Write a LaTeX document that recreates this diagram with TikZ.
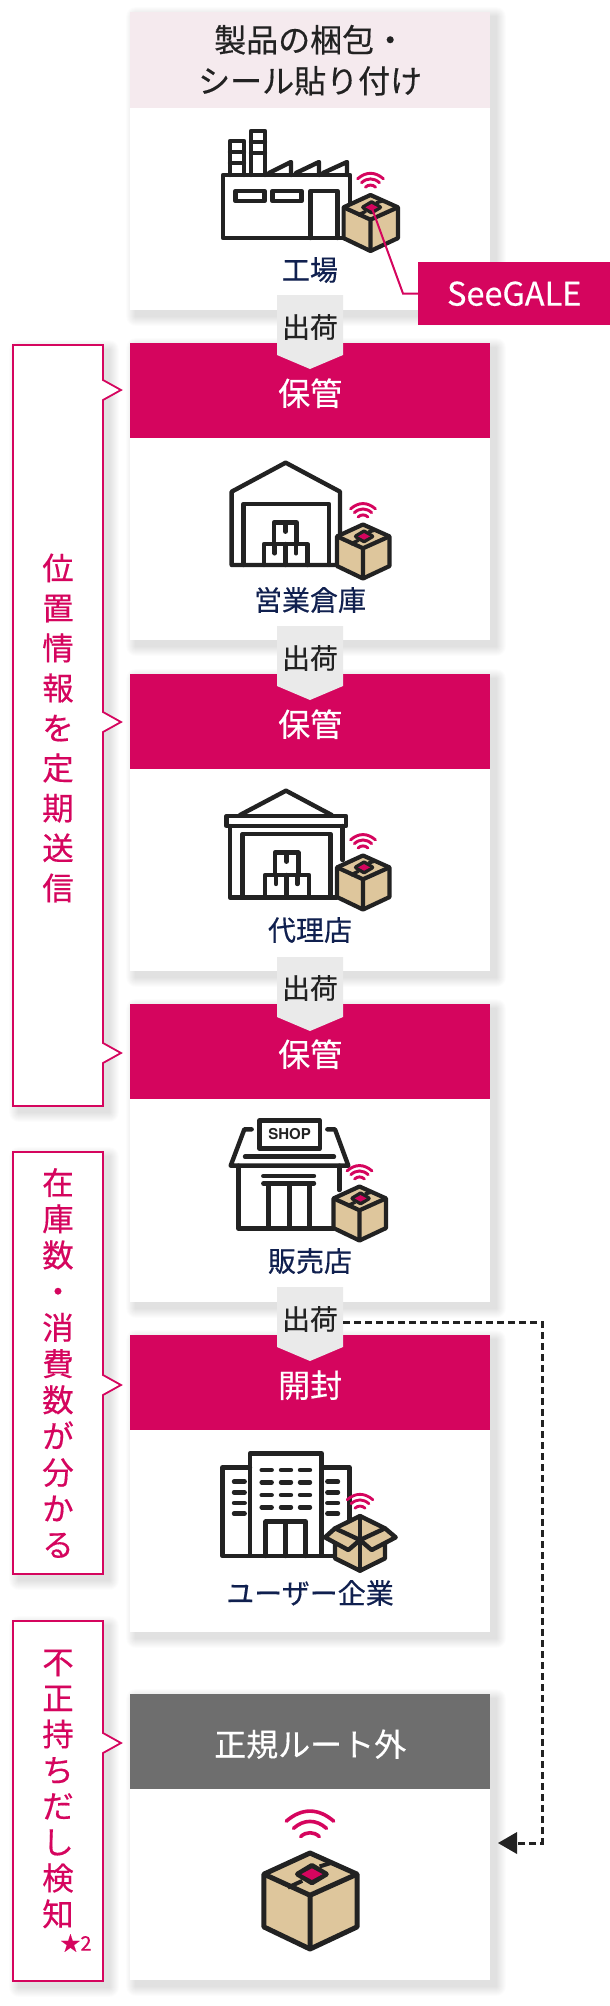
\documentclass[tikz,border=0pt]{standalone}
\usepackage{fontspec}
\setmainfont{Noto Sans CJK JP}[FakeBold=0.4]
\newfontfamily\shopfont{TeX Gyre Heros}
\definecolor{pnk}{HTML}{D5055E}
\definecolor{hdrlight}{HTML}{F5EAEE}
\definecolor{ink}{HTML}{222222}
\definecolor{navy}{HTML}{10204F}
\definecolor{tan}{HTML}{DEC69C}
\definecolor{arrowgray}{HTML}{EAEAEA}
\definecolor{hdrgray}{HTML}{6E6E6E}
\newcommand{\hd}[1]{\raisebox{-2.5pt}[\height][\depth]{#1}}
\tikzset{
  card/.style={fill=white,draw=none,inner sep=0pt,minimum width=360pt,anchor=north west},
  header/.style={fill=pnk,text=white,inner sep=0pt,minimum width=360pt,minimum height=95pt,anchor=north west,font=\fontsize{32}{41}\selectfont,align=center},
  place/.style={text=navy,font=\fontsize{28}{30}\selectfont,inner sep=0pt},
  shiptext/.style={text=ink,font=\fontsize{28}{30}\selectfont,inner sep=0pt},
  shipshape/.style={fill=arrowgray,draw=none},
  icon/.style={draw=ink,line width=4.4pt,line join=round,line cap=round},
  callout/.style={draw=pnk,line width=1.8pt,fill=white,line join=miter},
  calltext/.style={text=pnk,font=\fontsize{31.5}{36}\selectfont,inner sep=0pt,align=center},
  tapeline/.style={draw=pnk,line width=2pt},
  zoomframe/.style 2 args={shift={(#1,#2)},x=0.33333pt,y=-0.33333pt},
}
\newcommand{\softshadow}[4]{%
  \foreach \r in {1,2,...,10}{%
    \fill[black,opacity=0.012,rounded corners=\r pt]
      ({#1+6-\r*1.0},{#2+5-\r*1.0}) rectangle ({#3+6+\r*1.0},{#4+6+\r*1.0});
  }}
\newcommand{\wifi}[4]{% cx, top, scale, lw
  \begin{scope}[shift={(#1,#2)},x=#3pt,y=-#3pt,draw=pnk,line width=#4pt,line cap=round]
    \draw (-23,-29) .. controls (-8,-42) and (8,-42) .. (23,-29);
    \draw (-16,-22) .. controls (-6,-31) and (6,-31) .. (16,-22);
    \draw (-9,-14) .. controls (-4,-19) and (4,-19) .. (9,-14);
  \end{scope}}
\newcommand{\boxbody}[4]{% cx, top, scale, lw
  \begin{scope}[shift={(#1,#2)},x=#3pt,y=-#3pt]
    \filldraw[fill=tan,draw=ink,line width=#4pt,line join=round]
      (0,0) -- (49,22) -- (49,77) -- (0,100) -- (-48,77) -- (-48,22) -- cycle;
    \draw[draw=ink,line width=#4pt,line join=round] (-48,22) -- (0,44) -- (49,22) (0,44) -- (0,100);
    \draw[draw=ink,line width=#4pt*0.8] (10,14) -- (23,10) (-8,29) -- (-23,36);
    \filldraw[fill=ink,draw=ink,line width=#4pt,line join=round]
      (2,13) -- (17,22) -- (2,31) -- (-13,22) -- cycle;
    \fill[pnk] (2,16) -- (13,22) -- (2,28) -- (-9,22) -- cycle;
  \end{scope}}
\newcommand{\sensorbox}[4]{\boxbody{#1}{#2}{#3}{#4}\wifi{#1}{#2}{#3}{#4*0.7}}
\begin{document}
\begin{tikzpicture}[x=1pt,y=-1pt]
\useasboundingbox (0,0) rectangle (610,2006);
\fill[white] (0,0) rectangle (610,2006);

% callouts
\softshadow{13}{345}{103}{1106}
\softshadow{13}{1152}{103}{1574}
\softshadow{13}{1621}{103}{1981}
\draw[callout] (13,345) -- (103,345) -- (103,380) -- (121,390) -- (103,400) -- (103,712) -- (121,722) -- (103,732) -- (103,1043) -- (121,1053) -- (103,1063) -- (103,1106) -- (13,1106) -- cycle;
\draw[callout] (13,1152) -- (103,1152) -- (103,1375) -- (121,1385) -- (103,1395) -- (103,1574) -- (13,1574) -- cycle;
\draw[callout] (13,1621) -- (103,1621) -- (103,1733) -- (121,1743) -- (103,1753) -- (103,1981) -- (13,1981) -- cycle;
\node[calltext,font=\fontsize{31.5}{40}\selectfont] (co1) at (58,728) {位\\置\\情\\報\\を\\定\\期\\送\\信};
\node[calltext,font=\fontsize{31.5}{36.2}\selectfont] (co2) at (58,1363) {在\\庫\\数\\・\\消\\費\\数\\が\\分\\か\\る};
\node[calltext] (co3) at (58,1789) {不\\正\\持\\ち\\だ\\し\\検\\知};
\node[text=pnk,font=\fontsize{20}{22}\selectfont,inner sep=0pt] (star) at (76,1943) {★2};

% card shadows
\softshadow{130}{12}{490}{310}
\softshadow{130}{343}{490}{640}
\softshadow{130}{674}{490}{971}
\softshadow{130}{1004}{490}{1302}
\softshadow{130}{1335}{490}{1632}
\softshadow{130}{1694}{490}{1980}

% card 1
\node[card,minimum height=298pt] (card1) at (130,12) {};
\node[header,fill=hdrlight,text=ink,minimum height=96pt] (head1) at (130,12) {製品の梱包・\\シール貼り付け};
% cards 2-6
\node[card,minimum height=297pt] (card2) at (130,343) {};
\node[header] (head2) at (130,343) {\hd{保管}};
\node[card,minimum height=297pt] (card3) at (130,674) {};
\node[header] (head3) at (130,674) {\hd{保管}};
\node[card,minimum height=298pt] (card4) at (130,1004) {};
\node[header] (head4) at (130,1004) {\hd{保管}};
\node[card,minimum height=297pt] (card5) at (130,1335) {};
\node[header] (head5) at (130,1335) {\hd{開封}};
\node[card,minimum height=286pt] (card6) at (130,1694) {};
\node[header,fill=hdrgray] (head6) at (130,1694) {\hd{正規ルート外}};

% place labels
\node[place] (lab1) at (310,270) {工場};
\node[place] (lab2) at (310,600) {営業倉庫};
\node[place] (lab3) at (310,930) {代理店};
\node[place] (lab4) at (310,1261) {販売店};
\node[place] (lab5) at (310,1593) {ユーザー企業};

% factory
\begin{scope}[icon]
  \draw (223,175) rectangle (350,238);
  \draw (230,175) -- (230,141) -- (244,141) -- (244,175) (230,152) -- (244,152) (230,163) -- (244,163);
  \draw (251,175) -- (251,131) -- (265,131) -- (265,175) (251,142) -- (265,142) (251,153) -- (265,153);
  \draw (269,173) -- (291,162) -- (291,175);
  \draw (296,173) -- (319,162) -- (319,175);
  \draw (323,173) -- (347,162) -- (347,175);
  \draw (235.5,191) rectangle (264.5,201);
  \draw (272.5,191) rectangle (301.5,201);
  \draw (310.5,238) -- (310.5,191) -- (337.5,191) -- (337.5,238);
\end{scope}
\sensorbox{370.5}{195}{0.56}{4.2}

% warehouse
\begin{scope}[zoomframe={200}{440},icon]
  \draw (420,290) -- (420,155) -- (257,68) -- (95,155) -- (95,375) -- (410,375);
  \draw (130,375) -- (130,192) -- (387,192) -- (387,375);
  \draw (222,312) -- (222,247) -- (290,247) -- (290,312);
  \draw (192,375) -- (192,312) -- (322,312) -- (322,375);
  \draw (257,312) -- (257,375);
  \draw (256,247) -- (256,275) (224,312) -- (224,340) (288,312) -- (288,340);
\end{scope}
\sensorbox{363}{524.5}{0.54}{4.2}

% dealer
\begin{scope}[zoomframe={200}{770},icon]
  \draw (120,135) -- (258,62) -- (395,135);
  \draw (80,138) rectangle (438,168);
  \draw (428,270) -- (428,168) (90,168) -- (90,382) -- (410,382);
  \draw (128,382) -- (128,192) -- (392,192) -- (392,382);
  \draw (225,315) -- (225,248) -- (295,248) -- (295,315);
  \draw (195,382) -- (195,315) -- (327,315) -- (327,382);
  \draw (260,315) -- (260,382);
  \draw (259,248) -- (259,275) (228,315) -- (228,342) (292,315) -- (292,342);
\end{scope}
\sensorbox{363}{855.5}{0.54}{4.2}

% shop
\begin{scope}[zoomframe={200}{1100},icon]
  \draw (178,62) rectangle (360,145);
  \node[text=ink,font=\shopfont\bfseries\fontsize{15}{16}\selectfont,inner sep=0pt] (shop) at (269,102) {SHOP};
  \draw (155,88) -- (133,88) -- (92,197) -- (445,197) -- (405,88) -- (382,88);
  \draw (135,170) -- (402,170);
  \draw (418,270) -- (418,197) (115,197) -- (115,385) -- (400,385);
  \draw (190,228) -- (342,228) (190,250) -- (342,250);
  \draw (205,250) -- (205,385) (268,250) -- (268,385) (328,250) -- (328,385);
\end{scope}
\sensorbox{359.5}{1186.5}{0.54}{4.2}

% office
\begin{scope}[zoomframe={200}{1430},icon]
  \draw (150,70) rectangle (365,378);
  \draw (150,112) -- (67,112) -- (67,378) -- (150,378);
  \draw (365,112) -- (448,112) -- (448,290) (365,378) -- (405,378);
  \foreach \cx in {200,258,315}{\foreach \cy in {120,157,195,232}{\draw (\cx-15,\cy) -- (\cx+15,\cy);}}
  \foreach \cx in {118,398}{\foreach \cy in {155,187,219,251}{\draw (\cx-16,\cy) -- (\cx+16,\cy);}}
  \draw (197,378) -- (197,275) -- (317,275) -- (317,378) (257,275) -- (257,378);
  % open box
  \filldraw[fill=tan] (405,295) -- (480,258) -- (555,295) -- (555,385) -- (480,422) -- (405,385) -- cycle;
  \draw (480,258) -- (480,422);
  \filldraw[fill=tan] (405,295) -- (375,322) -- (445,360) -- (480,330) -- cycle;
  \filldraw[fill=tan] (555,295) -- (587,322) -- (515,360) -- (480,330) -- cycle;
\end{scope}
\wifi{360}{1516}{0.56}{2.8}

% big box
\boxbody{310}{1853}{0.96}{5}
\wifi{310}{1851}{1.03}{3.6}

% ship arrows
\foreach \n/\t in {1/295,2/626,3/957,4/1287}{
  \fill[shipshape] (277,\t) -- (343,\t) -- (343,\t+60) -- (310,\t+74) -- (277,\t+60) -- cycle;
}
\node[shiptext] (ship1) at (310,327) {出荷};
\node[shiptext] (ship2) at (310,658) {出荷};
\node[shiptext] (ship3) at (310,988) {出荷};
\node[shiptext] (ship4) at (310,1319) {出荷};

% SeeGALE
\node[fill=pnk,text=white,inner sep=0pt,minimum width=192pt,minimum height=63pt,anchor=north west,font=\fontsize{32.5}{34}\selectfont] (seegale) at (418,262) {SeeGALE};
\coordinate (sensor) at (371.5,207);
\coordinate (bend) at (403,293.5);
\draw[tapeline] (sensor) -- (bend) -- (bend -| seegale.west);

% dashed route
\coordinate (dstart) at (343,1322);
\coordinate (dcorner) at (542,1322);
\coordinate (dcorner2) at (542,1843);
\coordinate (dend) at (517,1843);
\draw[draw=ink,line width=3pt,dash pattern=on 7pt off 4pt] (dstart) -- (dcorner) -- (dcorner2) -- (dend);
\fill[ink] (517,1832) -- (517,1854) -- (498,1843) -- cycle;
\end{tikzpicture}
\end{document}
